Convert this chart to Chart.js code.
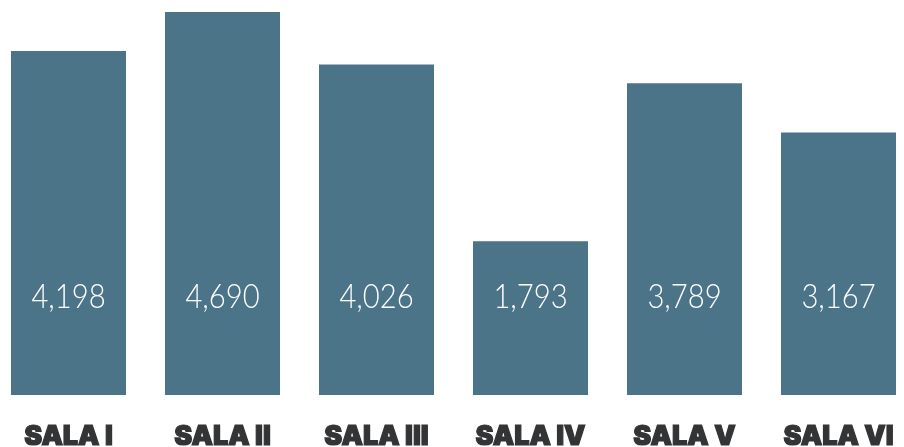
<!DOCTYPE html>
<html>
<head>
<meta charset="utf-8">
<script src="https://cdn.jsdelivr.net/npm/chart.js@4"></script>
<style>
  html, body { margin: 0; padding: 0; background: #fff; }
  #wrap { width: 904px; height: 447px; }
</style>
</head>
<body>
<div id="wrap"><canvas id="chart"></canvas></div>
<script>
const categories = ['SALA I', 'SALA II', 'SALA III', 'SALA IV', 'SALA V', 'SALA VI'];
const visitors = [4198, 4690, 4026, 1793, 3789, 3167];

const barColor = '#4b7489';
const axisMin = -150;

// white numbers sitting at a fixed height inside each bar
const valueLabels = {
  id: 'valueLabels',
  afterDatasetsDraw(chart) {
    const ctx = chart.ctx;
    const meta = chart.getDatasetMeta(0);
    ctx.save();
    ctx.font = '300 34px Lato';
    ctx.fillStyle = '#ffffff';
    ctx.textAlign = 'center';
    ctx.textBaseline = 'middle';
    meta.data.forEach((bar, i) => {
      ctx.save();
      ctx.translate(bar.x, chart.chartArea.bottom - 98);
      ctx.scale(0.86, 1);
      ctx.fillText(visitors[i].toLocaleString('en-US'), 0, 0);
      ctx.restore();
    });
    ctx.restore();
  }
};

new Chart(document.getElementById('chart'), {
  type: 'bar',
  data: {
    labels: categories,
    datasets: [{
      data: visitors,
      base: axisMin,
      backgroundColor: barColor,
      borderWidth: 0,
      barPercentage: 1,
      categoryPercentage: 0.747,
      clip: false
    }]
  },
  options: {
    responsive: true,
    maintainAspectRatio: false,
    animation: false,
    layout: { padding: { left: 68.5, right: 65.5, top: 12, bottom: 0 } },
    plugins: { legend: { display: false }, tooltip: { enabled: false } },
    scales: {
      x: {
        offset: false,
        grid: { display: false, drawTicks: false },
        border: { display: false },
        ticks: {
          color: '#333436',
          textStrokeColor: '#333436',
          textStrokeWidth: 1.2,
          padding: 28,
          maxRotation: 0,
          autoSkip: false,
          font: { family: 'Inter', weight: 900, size: 27, lineHeight: 1 }
        },
        afterFit(scale) {
          scale.height = 52;
          scale.paddingLeft = 0;
          scale.paddingRight = 0;
        }
      },
      y: {
        display: false,
        min: axisMin,
        max: 4690
      }
    }
  },
  plugins: [valueLabels]
});
</script>
</body>
</html>
